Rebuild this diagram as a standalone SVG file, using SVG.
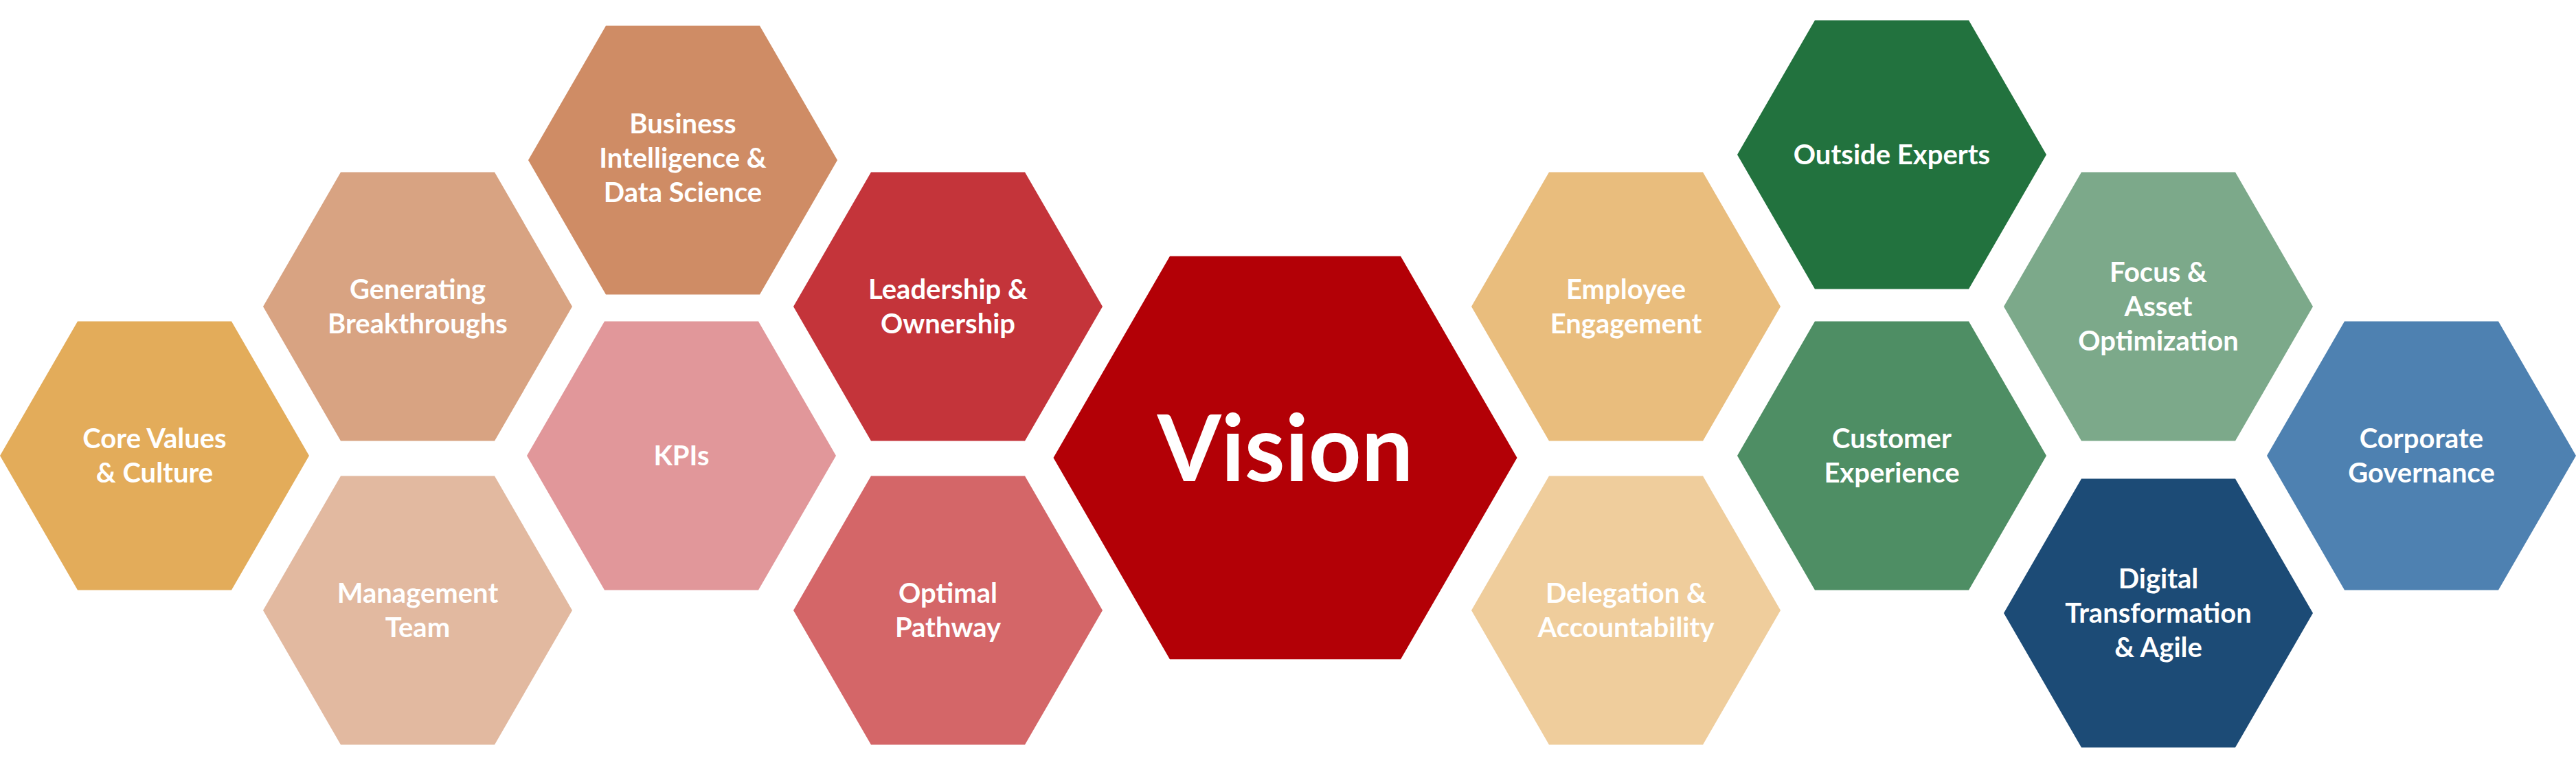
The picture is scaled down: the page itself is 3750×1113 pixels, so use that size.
<svg xmlns="http://www.w3.org/2000/svg" xmlns:xlink="http://www.w3.org/1999/xlink" width="3750" height="1113" viewBox="0 0 3750 1113">
<style>
text{font-family:Lato,"Open Sans","Liberation Sans",sans-serif;font-weight:700;fill:#fff;text-anchor:middle;font-size:40px}
.big{font-size:134px}
</style>
<defs>
<polygon id="hex" points="-225,0 -112,-195.5 112,-195.5 225,0 112,195.5 -112,195.5"/>
</defs>
<rect width="3750" height="1113" fill="#fff"/>
<g id="core"><use xlink:href="#hex" x="225" y="663" fill="#E3AC5A"/><text x="225" y="652">Core Values</text><text x="225" y="702">&amp; Culture</text></g>
<g id="generating"><use xlink:href="#hex" x="608" y="446" fill="#D8A382"/><text x="608" y="435">Generating</text><text x="608" y="485">Breakthroughs</text></g>
<g id="management"><use xlink:href="#hex" x="608" y="888" fill="#E2B9A0"/><text x="608" y="877">Management</text><text x="608" y="927">Team</text></g>
<g id="business"><use xlink:href="#hex" x="994" y="233" fill="#CF8C65"/><text x="994" y="194">Business</text><text x="994" y="244">Intelligence &amp;</text><text x="994" y="294">Data Science</text></g>
<g id="kpis"><use xlink:href="#hex" x="992" y="663" fill="#E1979A"/><text x="992" y="677">KPIs</text></g>
<g id="leadership"><use xlink:href="#hex" x="1380" y="446" fill="#C4343A"/><text x="1380" y="435">Leadership &amp;</text><text x="1380" y="485">Ownership</text></g>
<g id="optimal"><use xlink:href="#hex" x="1380" y="888" fill="#D46668"/><text x="1380" y="877">Optimal</text><text x="1380" y="927">Pathway</text></g>
<g id="vision"><use xlink:href="#hex" transform="translate(1871,666) scale(1.5)" fill="#B30006"/><text class="big" x="1871" y="700">Vision</text></g>
<g id="employee"><use xlink:href="#hex" x="2367" y="446" fill="#E9BD7D"/><text x="2367" y="435">Employee</text><text x="2367" y="485">Engagement</text></g>
<g id="delegation"><use xlink:href="#hex" x="2367" y="888" fill="#EFCD9C"/><text x="2367" y="877">Delegation &amp;</text><text x="2367" y="927">Accountability</text></g>
<g id="outside"><use xlink:href="#hex" x="2754" y="225" fill="#22723E"/><text x="2754" y="239">Outside Experts</text></g>
<g id="customer"><use xlink:href="#hex" x="2754" y="663" fill="#4E8E64"/><text x="2754" y="652">Customer</text><text x="2754" y="702">Experience</text></g>
<g id="focus"><use xlink:href="#hex" x="3142" y="446" fill="#7CA98A"/><text x="3142" y="410">Focus &amp;</text><text x="3142" y="460">Asset</text><text x="3142" y="510">Optimization</text></g>
<g id="digital"><use xlink:href="#hex" x="3142" y="892" fill="#1C4B76"/><text x="3142" y="856">Digital</text><text x="3142" y="906">Transformation</text><text x="3142" y="956">&amp; Agile</text></g>
<g id="corporate"><use xlink:href="#hex" x="3525" y="663" fill="#4E81B1"/><text x="3525" y="652">Corporate</text><text x="3525" y="702">Governance</text></g>
<g id="connectors"/>
</svg>
